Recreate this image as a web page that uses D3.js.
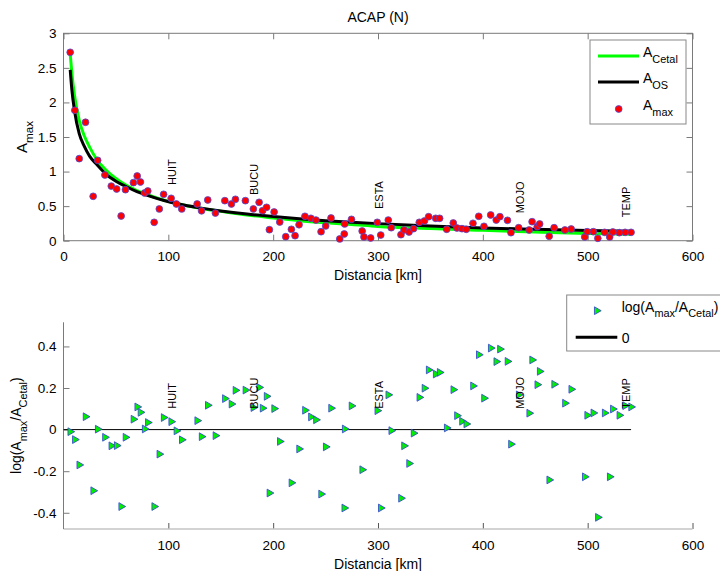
<!DOCTYPE html>
<html><head><meta charset="utf-8">
<script src="https://cdn.jsdelivr.net/npm/d3@7"></script>
<style>
body{margin:0;background:#fff}
svg{display:block;font-family:"Liberation Sans",Arial,Helvetica,sans-serif}
</style>
</head><body>
<svg id="chart" width="720" height="571"></svg>
<script>
// ---------- data ----------
const distances = [6.4,10.8,15.0,21.0,28.3,32.6,39.5,45.6,50.7,55.0,59.1,66.7,70.3,73.4,77.4,80.4,86.5,91.4,95.5,102.7,
  107.7,112.8,127.5,131.7,137.6,144.9,153.9,160.2,164.0,173.5,181.1,186.6,189.9,193.7,196.4,200.9,206.3,212.0,217.4,220.9,
  224.7,230.3,236.0,240.8,245.7,250.1,255.2,263.5,267.8,268.2,274.7,284.9,286.6,293.0,299.3,302.6,309.8,312.6,321.9,324.8,
  329.6,333.9,339.4,344.3,348.3,355.0,358.8,365.5,371.8,375.3,380.1,384.2,390.6,396.1,401.1,407.5,412.8,416.3,423.5,426.8,
  434.2,444.2,447.0,451.9,454.2,463.3,468.0,478.3,484.3,497.2,499.5,505.4,509.7,516.2,521.0,524.0,530.2,535.7,541.4];
const amax = [2.725,1.886,1.187,1.713,0.642,1.163,0.95,0.79,0.748,0.357,0.738,0.84,0.936,0.849,0.69,0.719,0.266,0.459,0.671,0.613,
  0.531,0.459,0.531,0.432,0.589,0.40,0.579,0.531,0.599,0.579,0.459,0.555,0.434,0.483,0.159,0.415,0.27,0.058,0.165,0.072,
  0.231,0.353,0.324,0.299,0.13,0.213,0.328,0.025,0.097,0.242,0.309,0.14,0.054,0.039,0.266,0.082,0.299,0.188,0.087,0.155,
  0.126,0.174,0.266,0.285,0.347,0.324,0.324,0.165,0.256,0.184,0.174,0.165,0.252,0.353,0.208,0.372,0.299,0.347,0.295,0.116,
  0.188,0.155,0.275,0.203,0.242,0.064,0.188,0.155,0.169,0.054,0.13,0.13,0.035,0.121,0.054,0.126,0.116,0.121,0.121];
// log10(Amax/ACetal); null = outside the lower panel's range (not drawn)
const logRatio = [-0.01,-0.048,-0.17,0.062,-0.294,0.002,-0.037,-0.078,-0.077,-0.37,-0.037,0.05,0.109,0.083,0.003,0.034,-0.37,-0.118,0.058,0.038,
  -0.006,-0.049,0.043,-0.034,0.117,-0.029,0.149,0.123,0.189,0.19,0.106,0.203,0.103,0.16,-0.305,0.101,-0.057,null,-0.256,null,
  -0.093,0.093,0.061,0.047,-0.31,-0.083,0.103,null,-0.377,0.003,0.114,-0.193,null,null,0.091,-0.377,0.167,-0.005,-0.33,-0.078,
  -0.163,-0.017,0.155,0.199,0.287,0.267,0.275,0.008,0.192,0.067,0.04,0.027,0.21,0.36,0.151,0.392,0.327,0.387,0.328,-0.07,
  0.167,0.079,0.335,0.216,0.28,-0.242,0.218,0.127,0.194,-0.227,0.069,0.08,-0.422,0.08,-0.227,0.099,0.069,0.115,0.109];
const curveDist = [6.4,8,10.5,15,20,25,32,40,50,60,70,80,95,110,130,150,175,200,225,250,275,300,350,400,450,500,541.4];
const aCetal = [2.70,2.42,2.10,1.74,1.51,1.35,1.17,1.03,0.90,0.80,0.725,0.665,0.59,0.53,0.47,0.425,0.372,0.33,0.29,0.26,0.235,0.207,0.176,0.15,0.126,0.105,0.093];
const aOS    = [2.47,2.18,1.88,1.55,1.36,1.22,1.10,0.97,0.86,0.78,0.71,0.655,0.585,0.53,0.475,0.43,0.385,0.35,0.318,0.29,0.267,0.247,0.213,0.185,0.165,0.148,0.138];
const stations = ["HUIT","BUCU","ESTA","MOJO","TEMP"];
const stationDist = [104,182,300.8,435.9,536.5];
const stationTopY = [0.806,0.66,0.459,0.396,0.338];
const stationLowY = [0.1,0.1,0.1,0.1,0.1];
const zeroLineX = [0,541.4];
const topXTicks = [0,100,200,300,400,500,600];
const topYTicks = [0,0.5,1,1.5,2,2.5,3];
const lowXTicks = [100,200,300,400,500,600];
const lowYTicks = [-0.4,-0.2,0,0.2,0.4];

// ---------- helpers ----------
const svg = d3.select("#chart");
const AX = "#7a7a7a";
function rich(sel, parts, size){
  const shift = size*0.42;
  let down = false;
  parts.forEach(p=>{
    const t = sel.append("tspan").text(p.t);
    if(p.sub){
      t.attr("font-size",size*0.78).attr("dy",down?0:shift); down = true;
    } else {
      t.attr("font-size",size); if(down){ t.attr("dy",-shift); down = false; }
    }
  });
}
function styleAxis(g, lineColor){
  g.select(".domain").remove();
  g.selectAll(".tick line").attr("stroke",lineColor);
  g.selectAll(".tick text").attr("fill","#000").attr("font-size",13.5)
   .attr("font-family",'"Liberation Sans",Arial,sans-serif');
}

// ---------- top panel ----------
const x1 = d3.scaleLinear().domain([0,600]).range([63.5,692.5]);
const y1 = d3.scaleLinear().domain([0,3]).range([240.7,33.3]);

svg.append("rect").attr("x",x1(0)).attr("y",y1(3)).attr("width",x1(600)-x1(0)).attr("height",y1(0)-y1(3))
  .attr("fill","#fff").attr("stroke",AX).attr("stroke-width",1);

const gxb = svg.append("g").attr("transform",`translate(0,${y1(0)})`)
  .call(d3.axisBottom(x1).tickValues(topXTicks).tickSizeInner(-6).tickSizeOuter(0).tickPadding(11).tickFormat(d=>String(d)));
styleAxis(gxb, AX);
const gxt = svg.append("g").attr("transform",`translate(0,${y1(3)})`)
  .call(d3.axisTop(x1).tickValues(topXTicks).tickSizeInner(-6).tickSizeOuter(0).tickFormat(""));
styleAxis(gxt, AX);
gxt.selectAll(".tick text").remove();
const gyl = svg.append("g").attr("transform",`translate(${x1(0)},0)`)
  .call(d3.axisLeft(y1).tickValues(topYTicks).tickSizeInner(-6).tickSizeOuter(0).tickPadding(7).tickFormat(d=>String(d)));
styleAxis(gyl, AX);
const gyr = svg.append("g").attr("transform",`translate(${x1(600)},0)`)
  .call(d3.axisRight(y1).tickValues(topYTicks).tickSizeInner(-6).tickSizeOuter(0).tickFormat(""));
styleAxis(gyr, AX);
gyr.selectAll(".tick text").remove();

const line1 = d3.line().x((d,i)=>x1(curveDist[i])).y(d=>y1(d)).curve(d3.curveMonotoneX);
svg.append("path").attr("d",line1(aCetal)).attr("fill","none").attr("stroke","#00ff00").attr("stroke-width",3);
svg.append("path").attr("d",line1(aOS)).attr("fill","none").attr("stroke","#000").attr("stroke-width",3);

svg.append("g").selectAll("circle").data(amax).join("circle")
  .attr("cx",(d,i)=>x1(distances[i])).attr("cy",d=>y1(d)).attr("r",3.4)
  .attr("fill","#ff0000").attr("stroke","#4a4ae0").attr("stroke-width",0.8);

svg.append("g").selectAll("text").data(stations).join("text")
  .attr("transform",(d,i)=>`translate(${x1(stationDist[i])},${y1(stationTopY[i])}) rotate(-90)`)
  .attr("dy","0.36em").attr("font-size",11).attr("fill","#000").text(d=>d);

svg.append("text").attr("x",(x1(0)+x1(600))/2).attr("y",22).attr("text-anchor","middle")
  .attr("font-size",14).text("ACAP (N)");
svg.append("text").attr("x",(x1(0)+x1(600))/2).attr("y",279.5).attr("text-anchor","middle")
  .attr("font-size",14).text("Distancia [km]");
const yl1 = svg.append("text").attr("transform",`translate(27,${(y1(0)+y1(3))/2}) rotate(-90)`).attr("text-anchor","middle");
rich(yl1,[{t:"A"},{t:"max",sub:true}],15);

// legend top
const lg = svg.append("g");
lg.append("rect").attr("x",590).attr("y",40).attr("width",96).attr("height",84).attr("fill","#fff").attr("stroke","#888");
lg.append("line").attr("x1",598).attr("x2",639).attr("y1",56).attr("y2",56).attr("stroke","#00ff00").attr("stroke-width",3);
lg.append("line").attr("x1",598).attr("x2",639).attr("y1",82).attr("y2",82).attr("stroke","#000").attr("stroke-width",3);
lg.append("circle").attr("cx",618.7).attr("cy",109).attr("r",3.4).attr("fill","#ff0000").attr("stroke","#4a4ae0").attr("stroke-width",0.8);
rich(lg.append("text").attr("x",643).attr("y",57.3),[{t:"A"},{t:"Cetal",sub:true}],14);
rich(lg.append("text").attr("x",643).attr("y",83.3),[{t:"A"},{t:"OS",sub:true}],14);
rich(lg.append("text").attr("x",643).attr("y",110),[{t:"A"},{t:"max",sub:true}],14);

// ---------- bottom panel ----------
const x2 = d3.scaleLinear().domain([0,600]).range([63.5,692.5]);
const y2 = d3.scaleLinear().domain([-0.478,0.516]).range([529,322.3]);

const g2x = svg.append("g").attr("transform",`translate(0,${y2(-0.478)})`)
  .call(d3.axisBottom(x2).tickValues(lowXTicks).tickSizeInner(-6).tickSizeOuter(0).tickPadding(11).tickFormat(d=>String(d)));
styleAxis(g2x, "#555");
svg.append("line").attr("x1",x2(0)).attr("x2",x2(600)).attr("y1",y2(-0.478)).attr("y2",y2(-0.478))
  .attr("stroke","#c4c4c4").attr("stroke-width",1.6);
const g2y = svg.append("g").attr("transform",`translate(${x2(0)},0)`)
  .call(d3.axisLeft(y2).tickValues(lowYTicks).tickSizeInner(-6).tickSizeOuter(0).tickPadding(7).tickFormat(d=>String(d)));
styleAxis(g2y, AX);
svg.append("line").attr("x1",x2(0)).attr("x2",x2(0)).attr("y1",y2(0.516)).attr("y2",y2(-0.478))
  .attr("stroke",AX).attr("stroke-width",1);

const zl = d3.line().x(d=>x2(d)).y(()=>y2(0));
svg.append("path").attr("d",zl(zeroLineX)).attr("stroke","#000").attr("stroke-width",1).attr("fill","none");

const tri = d3.symbol().type(d3.symbolTriangle).size(26);
svg.append("g").selectAll("path").data(logRatio.map((v,i)=>({v,x:distances[i]})).filter(d=>d.v!==null)).join("path")
  .attr("d",tri).attr("transform",d=>`translate(${x2(d.x)},${y2(d.v)}) rotate(90)`)
  .attr("fill","#00ee00").attr("stroke","#3a4fd0").attr("stroke-width",0.9);

svg.append("g").selectAll("text").data(stations).join("text")
  .attr("transform",(d,i)=>`translate(${x2(stationDist[i])},${y2(stationLowY[i])}) rotate(-90)`)
  .attr("dy","0.36em").attr("font-size",11).attr("fill","#000").text(d=>d);

svg.append("text").attr("x",(x2(0)+x2(600))/2).attr("y",568.5).attr("text-anchor","middle")
  .attr("font-size",14).text("Distancia [km]");
const yl2 = svg.append("text").attr("transform",`translate(21,${(y2(-0.478)+y2(0.516))/2}) rotate(-90)`).attr("text-anchor","middle");
rich(yl2,[{t:"log(A"},{t:"max",sub:true},{t:"/A"},{t:"Cetal",sub:true},{t:")"}],14);

// legend bottom
const lg2 = svg.append("g");
lg2.append("rect").attr("x",566.7).attr("y",295).attr("width",170).attr("height",56).attr("fill","#fff").attr("stroke","#888");
lg2.append("path").attr("d",tri).attr("transform","translate(596.7,310.7) rotate(90)")
  .attr("fill","#00ee00").attr("stroke","#3a4fd0").attr("stroke-width",0.9);
rich(lg2.append("text").attr("x",621.7).attr("y",311.5),[{t:"log(A"},{t:"max",sub:true},{t:"/A"},{t:"Cetal",sub:true},{t:")"}],14);
lg2.append("line").attr("x1",575.7).attr("x2",617.3).attr("y1",337.3).attr("y2",337.3).attr("stroke","#000").attr("stroke-width",3);
lg2.append("text").attr("x",621.7).attr("y",343).attr("font-size",14).text("0");
</script>
</body></html>
